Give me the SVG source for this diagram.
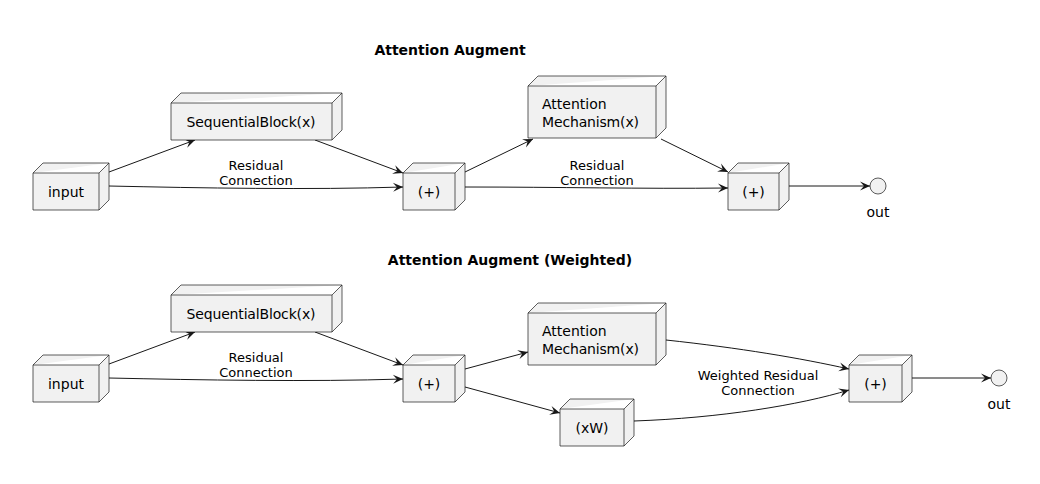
<svg xmlns="http://www.w3.org/2000/svg" width="1040" height="484" viewBox="0 0 1040 484">
<style>
.n path{fill:#F1F1F1;stroke:#181818;stroke-width:0.7}
.t{font-family:"DejaVu Sans",sans-serif;font-size:13px;fill:#000}
.n .t{font-size:14px}
.c{text-anchor:middle}
.ttl{font-family:"DejaVu Sans",sans-serif;font-size:14px;font-weight:bold;text-anchor:middle;fill:#000}
.e path{fill:none;stroke:#181818;stroke-width:1;marker-end:url(#a)}
.o{fill:#F1F1F1;stroke:#181818;stroke-width:0.7}
</style>
<defs>
<marker id="a" viewBox="-11 -6 12 12" refX="0" refY="0" markerWidth="12" markerHeight="12" markerUnits="userSpaceOnUse" orient="auto">
<path d="M0,0 L-10,-4.5 L-6,0 L-10,4.5 Z" fill="#181818"/>
</marker>
</defs>
<rect width="1040" height="484" fill="#fff"/>
<text class="ttl" x="450" y="55">Attention Augment</text>
<text class="ttl" x="510" y="265">Attention Augment (Weighted)</text>

<g id="connectors" class="e">
<path d="M109,172 L195,140"/>
<path d="M109,186 C200,188 310,190 403,187"/>
<path d="M315,140 L403,173"/>
<path d="M465,172 L533,139"/>
<path d="M465,187 C560,187 640,189 728,188"/>
<path d="M661,139 L728,172"/>
<path d="M789,186 L870,186"/>
<path d="M109,364 L195,332"/>
<path d="M109,378 C200,380 310,382 403,379"/>
<path d="M315,332 L403,365"/>
<path d="M465,369 L528,352"/>
<path d="M465,387 L560,413"/>
<path d="M666,340 C740,348 800,358 849,369"/>
<path d="M634,421 C720,418 800,405 849,390"/>
<path d="M912,378 L991,378"/>
</g>
<g id="labels">
<text class="t c" x="256" y="170">Residual</text>
<text class="t c" x="256" y="185">Connection</text>
<text class="t c" x="597" y="170">Residual</text>
<text class="t c" x="597" y="185">Connection</text>
<text class="t c" x="256" y="362">Residual</text>
<text class="t c" x="256" y="377">Connection</text>
<text class="t c" x="758" y="380">Weighted Residual</text>
<text class="t c" x="758" y="395">Connection</text>
</g>

<g id="input1" class="n"><path d="M33,173 L43,163 L109,163 L109,200 L99,210 L33,210 Z M33,173 L99,173 L109,163 M99,173 L99,210"/><text class="t c" x="66" y="197">input</text></g>
<g id="seq1" class="n"><path d="M171,103 L181,93 L342,93 L342,130 L332,140 L171,140 Z M171,103 L332,103 L342,93 M332,103 L332,140"/><text class="t c" x="251" y="127" textLength="129" lengthAdjust="spacing">SequentialBlock(x)</text></g>
<g id="plus1a" class="n"><path d="M403,173 L413,163 L465,163 L465,200 L455,210 L403,210 Z M403,173 L455,173 L465,163 M455,173 L455,210"/><text class="t c" x="429" y="197">(+)</text></g>
<g id="att1" class="n"><path d="M528,86 L538,76 L666,76 L666,128 L656,138 L528,138 Z M528,86 L656,86 L666,76 M656,86 L656,138"/><text class="t" x="542" y="109">Attention</text><text class="t" x="542" y="127" textLength="97" lengthAdjust="spacing">Mechanism(x)</text></g>
<g id="plus1b" class="n"><path d="M728,173 L738,163 L789,163 L789,200 L779,210 L728,210 Z M728,173 L779,173 L789,163 M779,173 L779,210"/><text class="t c" x="753.5" y="197">(+)</text></g>
<g id="out1"><circle class="o" cx="878" cy="186" r="8"/><text class="t c" x="878" y="217" style="font-size:14px">out</text></g>

<g id="input2" class="n"><path d="M33,365 L43,355 L109,355 L109,392 L99,402 L33,402 Z M33,365 L99,365 L109,355 M99,365 L99,402"/><text class="t c" x="66" y="389">input</text></g>
<g id="seq2" class="n"><path d="M171,295 L181,285 L342,285 L342,322 L332,332 L171,332 Z M171,295 L332,295 L342,285 M332,295 L332,332"/><text class="t c" x="251" y="319" textLength="129" lengthAdjust="spacing">SequentialBlock(x)</text></g>
<g id="plus2a" class="n"><path d="M403,365 L413,355 L465,355 L465,392 L455,402 L403,402 Z M403,365 L455,365 L465,355 M455,365 L455,402"/><text class="t c" x="429" y="389">(+)</text></g>
<g id="att2" class="n"><path d="M528,313 L538,303 L666,303 L666,355 L656,365 L528,365 Z M528,313 L656,313 L666,303 M656,313 L656,365"/><text class="t" x="542" y="336">Attention</text><text class="t" x="542" y="354" textLength="97" lengthAdjust="spacing">Mechanism(x)</text></g>
<g id="xw" class="n"><path d="M560,409 L570,399 L634,399 L634,436 L624,446 L560,446 Z M560,409 L624,409 L634,399 M624,409 L624,446"/><text class="t c" x="592" y="433">(xW)</text></g>
<g id="plus2b" class="n"><path d="M849,365 L859,355 L912,355 L912,392 L902,402 L849,402 Z M849,365 L902,365 L912,355 M902,365 L902,402"/><text class="t c" x="875.5" y="389">(+)</text></g>
<g id="out2"><circle class="o" cx="999" cy="378" r="8"/><text class="t c" x="999" y="409" style="font-size:14px">out</text></g>
</svg>
